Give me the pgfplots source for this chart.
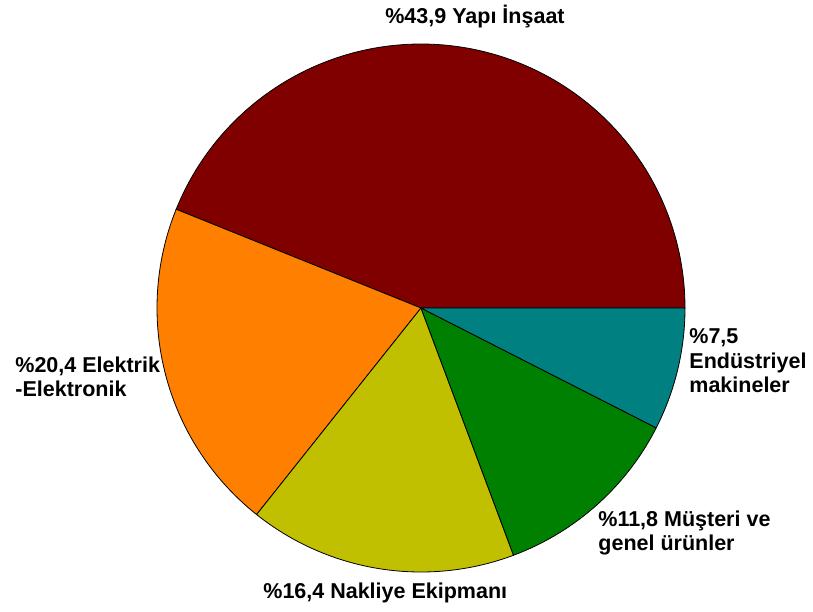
\documentclass[border=0pt]{standalone}
\usepackage{fontspec}
\setmainfont{Liberation Sans}
\usepackage{pgfplots}
\pgfplotsset{compat=1.18}

\definecolor{pieA}{HTML}{800000}
\definecolor{pieB}{HTML}{FF8000}
\definecolor{pieC}{HTML}{C0C000}
\definecolor{pieD}{HTML}{008000}
\definecolor{pieE}{HTML}{008080}

% shares in percent, counter-clockwise from 0 degrees
\def\vA{43.9}\def\vB{20.4}\def\vC{16.4}\def\vD{11.8}\def\vE{7.5}
\pgfmathsetmacro\aA{3.6*\vA}
\pgfmathsetmacro\aB{\aA+3.6*\vB}
\pgfmathsetmacro\aC{\aB+3.6*\vC}
\pgfmathsetmacro\aD{\aC+3.6*\vD}
\pgfmathsetmacro\aE{\aD+3.6*\vE}

\begin{document}
\begin{tikzpicture}
\begin{axis}[
    scale only axis,
    width=406.5pt, height=305.5pt,
    xmin=0, xmax=813, ymin=-611, ymax=0,
    hide axis, clip=false,
    samples=120, variable=\t,
    every axis plot/.append style={draw=black, line width=0.4pt},
    nodes={font=\bfseries\fontsize{10.75}{12.3}\selectfont, inner sep=0pt, align=left},
]
% keep the full canvas in the bounding box
\path (axis cs:0,0) rectangle (axis cs:813,-611);

\addplot[fill=pieA, domain=0:\aA]  ({421+264*cos(\t)},{-308+264*sin(\t)}) -- (axis cs:421,-308) -- cycle;
\addplot[fill=pieB, domain=\aA:\aB] ({421+264*cos(\t)},{-308+264*sin(\t)}) -- (axis cs:421,-308) -- cycle;
\addplot[fill=pieC, domain=\aB:\aC] ({421+264*cos(\t)},{-308+264*sin(\t)}) -- (axis cs:421,-308) -- cycle;
\addplot[fill=pieD, domain=\aC:\aD] ({421+264*cos(\t)},{-308+264*sin(\t)}) -- (axis cs:421,-308) -- cycle;
\addplot[fill=pieE, domain=\aD:\aE] ({421+264*cos(\t)},{-308+264*sin(\t)}) -- (axis cs:421,-308) -- cycle;

\node[anchor=center] at (axis cs:475,-17) {\%43,9 Yapı İnşaat};
\node[anchor=west] at (axis cs:15,-377) {\%20,4 Elektrik\\-Elektronik};
\node[anchor=west] at (axis cs:263,-593) {\%16,4 Nakliye Ekipmanı};
\node[anchor=west] at (axis cs:598,-533) {\%11,8 Müşteri ve\\genel ürünler};
\node[anchor=west] at (axis cs:689,-361) {\%7,5\\Endüstriyel\\makineler};
\end{axis}
\end{tikzpicture}
\end{document}
